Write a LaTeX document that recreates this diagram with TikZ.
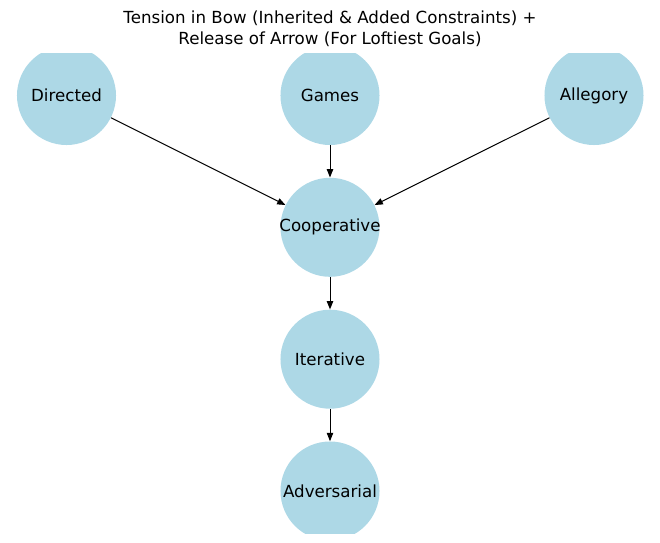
\documentclass[tikz,border=0pt]{standalone}
\usepackage{fontspec}
\setmainfont{DejaVu Sans}
\usetikzlibrary{arrows.meta}
\definecolor{nodeblue}{HTML}{ADD8E6}
\newcommand{\bowtext}[1]{\makebox[0pt]{#1}}
\begin{document}
\begin{tikzpicture}[x=0.72pt,y=-0.72pt,
	bownode/.style={circle, fill=nodeblue, minimum size=71.3pt, inner sep=0pt, font=\fontsize{12}{14}\selectfont},
	link/.style={-{Triangle[length=6pt,width=4.6pt]}, line width=0.72pt}]
	\useasboundingbox (0,0) rectangle (660,543);
	\node[align=center, font=\fontsize{12}{15}\selectfont] (title) at (330,28.5) {Tension in Bow (Inherited \& Added Constraints) +\\Release of Arrow (For Loftiest Goals)};
	\begin{scope}
	\clip (0,53) rectangle (660,533);
	\node[bownode] (directed) at (66.5,95.5) {\bowtext{Directed}};
	\node[bownode] (games) at (330,95.5) {\bowtext{Games}};
	\node[bownode] (allegory) at (594,95.5) {\bowtext{Allegory}};
	\node[bownode] (coop) at (330,227.3) {\bowtext{Cooperative}};
	\node[bownode] (iter) at (330,359.2) {\bowtext{Iterative}};
	\node[bownode] (adv) at (330,491) {\bowtext{Adversarial}};
	\end{scope}
	\draw[link] (directed) -- (coop);
	\draw[link] (games) -- (coop);
	\draw[link] (allegory) -- (coop);
	\draw[link] (coop) -- (iter);
	\draw[link] (iter) -- (adv);
\end{tikzpicture}
\end{document}
